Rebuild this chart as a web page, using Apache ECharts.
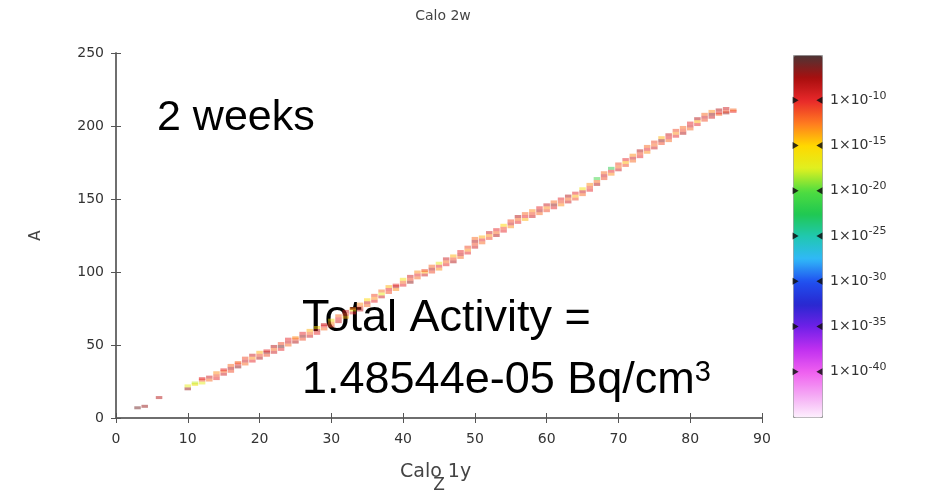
<!DOCTYPE html>
<html>
<head>
<meta charset="utf-8">
<script src="https://cdn.jsdelivr.net/npm/echarts@6/dist/echarts.min.js"></script>
<style>html,body{margin:0;padding:0;background:#fff;}#c{width:945px;height:492px;}</style>
</head>
<body>
<div id="c"></div>
<script>
// Proton number Z of each column
const zList = [3,4,6,10,11,12,13,14,15,16,17,18,19,20,21,22,23,24,25,26,27,28,29,30,31,32,33,34,35,36,37,38,39,40,41,42,43,44,45,46,47,48,49,50,51,52,53,54,55,56,57,58,59,60,61,62,63,64,65,66,67,68,69,70,71,72,73,74,75,76,77,78,79,80,81,82,83,84,85,86];
// Mass numbers A present for each Z
const aByZ = [[7],[8],[14],[20,22],[23,24],[24,26,27],[26,28],[27,29,31],[30,32,33],[32,34,36],[35,37,38],[37,39,41],[39,41,43],[41,43,45],[43,45,46],[45,47,49],[47,49,51],[50,52,54],[52,54,55],[54,56,58],[56,58,60],[58,60,62],[61,63,64],[63,65,67],[66,68,70],[69,71,73],[72,74,75],[74,76,78],[77,79,81],[80,82,84],[83,85,87],[86,88,90],[88,90,91],[91,93,95],[93,95,97],[96,98,100],[98,100,101],[100,102,104],[102,104,106],[105,107,109],[107,109,111],[110,112,114],[113,115,117],[117,119,121,123],[120,122,124],[123,125,127],[125,127,129],[128,130,132],[131,133,135],[134,136,138],[136,138,140],[138,140,142],[140,142,144],[142,144,146],[144,146,148],[146,148,150],[148,150,152],[150,152,154],[153,155,157],[156,158,160],[160,162,164],[164,166,168],[167,169,171],[170,172,174],[173,175,177],[176,178,180],[179,181,183],[182,184,186],[185,187,189],[188,190,192],[190,192,194],[193,195,197],[195,197,199],[198,200,202],[201,203,205],[204,206,208],[206,208,210],[208,209,211],[209,210,212],[210,211]];
// log10 of activity (Bq/cm3) for each cell
const eByZ = [[-6],[-7],[-8],[-7,-17],[-16,-18],[-17,-11,-10],[-12,-9],[-10,-11,-13],[-9,-12,-10],[-11,-8,-12],[-7,-10,-12],[-12,-9,-11],[-10,-13,-9],[-8,-11,-14],[-11,-7,-10],[-9,-12,-8],[-10,-6,-11],[-12,-9,-10],[-8,-11,-13],[-11,-7,-10],[-9,-12,-14],[-10,-8,-15],[-12,-10,-9],[-11,-13,-16],[-9,-10,-12],[-14,-11,-9],[-10,-16,-12],[-8,-11,-13],[-12,-9,-15],[-10,-13,-11],[-9,-17,-12],[-11,-10,-14],[-13,-8,-10],[-10,-12,-16],[-7,-11,-9],[-12,-10,-13],[-9,-14,-11],[-11,-8,-12],[-13,-10,-17],[-10,-12,-9],[-8,-11,-14],[-12,-9,-10],[-10,-13,-11],[-9,-11,-8,-12],[-12,-10,-14],[-11,-13,-9],[-8,-12,-10],[-10,-11,-15],[-13,-9,-11],[-10,-12,-8],[-14,-10,-12],[-9,-11,-13],[-12,-8,-10],[-11,-13,-9],[-10,-7,-12],[-13,-11,-10],[-9,-12,-8],[-11,-14,-10],[-12,-9,-16],[-10,-11,-13],[-8,-12,-21],[-11,-9,-12],[-13,-10,-22],[-9,-12,-11],[-11,-14,-10],[-12,-9,-13],[-10,-11,-8],[-13,-10,-12],[-9,-12,-11],[-11,-7,-14],[-12,-10,-9],[-10,-13,-11],[-8,-11,-12],[-12,-9,-10],[-10,-14,-8],[-11,-9,-12],[-9,-7,-13],[-12,-10,-8],[-7,-11,-9],[-10,-12]];
// colour bar, bottom (1e-45) to top (1e-5)
const cbColors = ['#fdf0fd','#f4a8f4','#f060f0','#c030f0','#7020e8','#2828d0','#2050f0','#30b8f8','#20c8b0','#20c850','#50dd40','#e0f020','#ffd800','#ff7a20','#e8282a','#a80e0e','#4d3535'];
const cbTicks = [-40,-35,-30,-25,-20,-15,-10];

const data = [];
zList.forEach((z, i) => {
  aByZ[i].forEach((a, j) => data.push([z, a, eByZ[i][j]]));
});
// colour-bar tick notches (left edge and right edge of the bar)
const notchLeft = cbTicks.map(v => [0.09, v]);
const notchRight = cbTicks.map(v => [0.91, v]);

const chart = echarts.init(document.getElementById('c'));
const tickFont = {fontFamily: 'DejaVu Sans', fontSize: 14, color: '#333'};
const frameLine = {show: true, lineStyle: {color: '#666', width: 1.5}};
const inTick = {show: true, inside: true, length: 5, lineStyle: {color: '#555', width: 1}};
chart.setOption({
  animation: false,
  backgroundColor: '#fff',
  grid: [
    {left: 116, top: 53, width: 646, height: 365, outerBoundsMode: 'none', containLabel: false},
    {left: 793, top: 55, width: 29, height: 362, outerBoundsMode: 'none', containLabel: false}
  ],
  xAxis: [
    {type: 'value', gridIndex: 0, min: 0, max: 90, interval: 10, position: 'bottom',
     axisLine: frameLine, axisTick: inTick, splitLine: {show: false},
     axisLabel: Object.assign({margin: 14}, tickFont),
     name: 'Z', nameLocation: 'middle', nameGap: 59,
     nameTextStyle: {fontFamily: 'DejaVu Sans', fontSize: 17, color: '#444'}},
    {type: 'value', gridIndex: 0, min: 0, max: 90, interval: 10, position: 'top',
     axisLine: frameLine, axisTick: inTick, splitLine: {show: false}, axisLabel: {show: false}},
    {type: 'value', gridIndex: 1, min: 0, max: 1, show: false}
  ],
  yAxis: [
    {type: 'value', gridIndex: 0, min: 0, max: 250, interval: 50, position: 'left',
     axisLine: frameLine, axisTick: inTick, splitLine: {show: false},
     axisLabel: Object.assign({margin: 12}, tickFont),
     name: 'A', nameLocation: 'middle', nameGap: 72, nameRotate: 90,
     nameTextStyle: {fontFamily: 'DejaVu Sans', fontSize: 15, color: '#444'}},
    {type: 'value', gridIndex: 0, min: 0, max: 250, interval: 50, position: 'right',
     axisLine: frameLine, axisTick: inTick, splitLine: {show: false}, axisLabel: {show: false}},
    {type: 'value', gridIndex: 1, min: -45, max: -5, interval: 5, position: 'right',
     axisLine: {show: false}, splitLine: {show: false}, axisTick: {show: false},
     axisLabel: {margin: 8, color: '#333',
       formatter: v => cbTicks.indexOf(v) >= 0 ? '{m|1×10}{s|' + v + '}' : '',
       rich: {m: {fontFamily: 'DejaVu Sans', fontSize: 14, color: '#333', lineHeight: 20},
              s: {fontFamily: 'DejaVu Sans', fontSize: 11, color: '#333', verticalAlign: 'top', lineHeight: 12}}}}
  ],
  visualMap: {
    type: 'continuous', min: -45, max: -5, dimension: 2, seriesIndex: 0,
    left: 793, top: 55, itemWidth: 29, itemHeight: 362, padding: 0, z: 2,
    calculable: false, text: null, showLabel: false,
    borderColor: '#999', borderWidth: 1,
    inRange: {color: cbColors}
  },
  series: [{
    type: 'scatter', xAxisIndex: 0, yAxisIndex: 0,
    symbol: 'rect', symbolSize: [6.5, 3],
    itemStyle: {opacity: 0.5},
    data: data
  }, {
    type: 'scatter', xAxisIndex: 2, yAxisIndex: 2, z: 10, silent: true,
    symbol: 'triangle', symbolSize: [7, 6], symbolRotate: -90,
    itemStyle: {color: '#111', opacity: 0.85},
    data: notchLeft
  }, {
    type: 'scatter', xAxisIndex: 2, yAxisIndex: 2, z: 10, silent: true,
    symbol: 'triangle', symbolSize: [7, 6], symbolRotate: 90,
    itemStyle: {color: '#111', opacity: 0.85},
    data: notchRight
  }],
  graphic: [
    {type: 'text', style: {text: 'Calo 2w', x: 443, y: 16, textAlign: 'center', textVerticalAlign: 'middle', font: '14px "DejaVu Sans"', fill: '#444'}},
    {type: 'text', style: {text: 'Calo 1y', x: 400, y: 472, textAlign: 'left', textVerticalAlign: 'middle', font: '19px "DejaVu Sans"', fill: '#444'}},
    {type: 'text', style: {text: '2 weeks', x: 157, y: 118, textAlign: 'left', textVerticalAlign: 'middle', font: '43px "Liberation Sans"', fill: '#000'}},
    {type: 'text', style: {text: 'Total Activity =', x: 302, y: 319, textAlign: 'left', textVerticalAlign: 'middle', font: '45px "Liberation Sans"', fill: '#000'}},
    {type: 'text', style: {text: '{m|1.48544e-05 Bq/cm}{s|3}', x: 302, y: 381, textAlign: 'left', textVerticalAlign: 'middle',
      rich: {m: {fontFamily: 'Liberation Sans', fontSize: 45, color: '#000'},
             s: {fontFamily: 'Liberation Sans', fontSize: 29, color: '#000', verticalAlign: 'top'}}}}
  ]
});
</script>
</body>
</html>
